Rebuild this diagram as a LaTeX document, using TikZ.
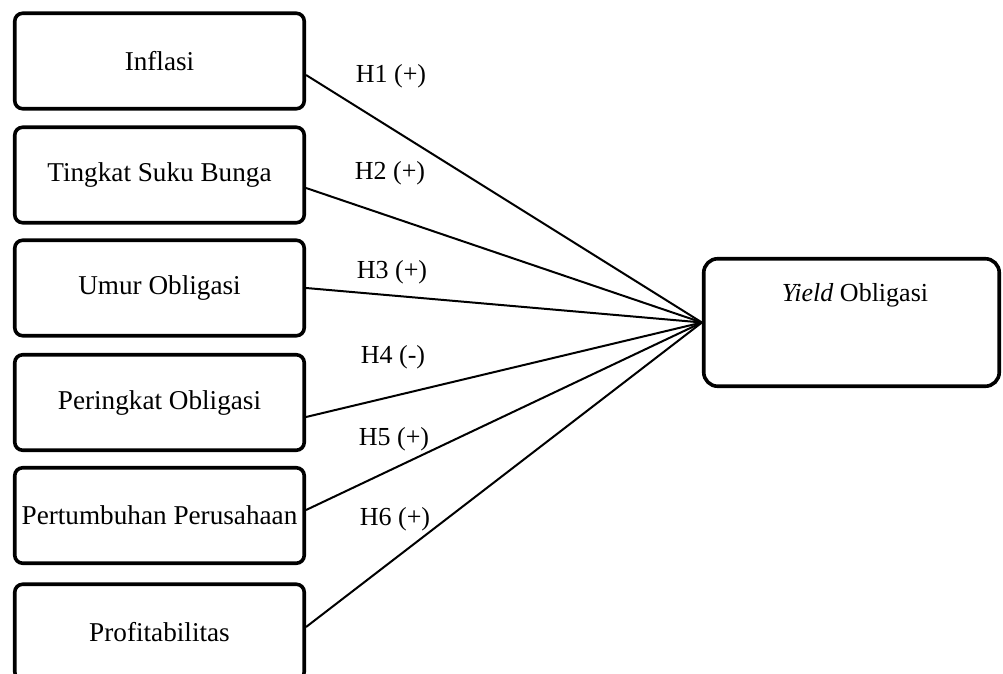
\documentclass[tikz,border=0pt]{standalone}
\usepackage{fontspec}
\setmainfont{Liberation Serif}
\usetikzlibrary{calc}
\tikzset{
  varbox/.style={draw,line width=1.8pt,rounded corners=4pt,minimum width=144.75pt,minimum height=47.75pt,inner sep=0pt,font=\fontsize{13.6}{15}\selectfont},
  yieldbox/.style={draw,line width=1.8pt,rounded corners=7pt,minimum width=147.75pt,minimum height=63.75pt,inner sep=0pt},
  link/.style={line width=1pt},
  hyp/.style={inner sep=0pt}
}

\begin{document}
\begin{tikzpicture}[x=0.5pt,y=-0.5pt,font=\fontsize{13}{15}\selectfont]
  \useasboundingbox (0,0) rectangle (1003,674);
  % variables
  \node[varbox] (inflasi) at (159.5,61) {Inflasi};
  \node[varbox] (bunga) at (159.5,175) {Tingkat Suku Bunga};
  \node[varbox] (umur) at (159.5,288) {Umur Obligasi};
  \node[varbox] (peringkat) at (159.5,402.5) {Peringkat Obligasi};
  \node[varbox] (tumbuh) at (159.5,515.5) {Pertumbuhan Perusahaan};
  \node[varbox] (profit) at (159.5,632) {Profitabilitas};
  \node[yieldbox] (yield) at (851.5,322.5) {};
  \node (yieldtxt) at (855,295) {\textit{Yield} Obligasi};
  % hypotheses
  \draw[link] ([yshift=-7pt]inflasi.east) -- (yield.west);
  \draw[link] ([yshift=-6.5pt]bunga.east) -- (yield.west);
  \draw[link] (umur.east) -- (yield.west);
  \draw[link] ([yshift=-7.25pt]peringkat.east) -- (yield.west);
  \draw[link] ([yshift=2.75pt]tumbuh.east) -- (yield.west);
  \draw[link] ([yshift=2.5pt]profit.east) -- (yield.west);
  \node[hyp] (h1) at (391,76) {H1 (+)};
  \node[hyp] (h2) at (390,173) {H2 (+)};
  \node[hyp] (h3) at (392,272) {H3 (+)};
  \node[hyp] (h4) at (393,357) {H4 (-)};
  \node[hyp] (h5) at (394,439) {H5 (+)};
  \node[hyp] (h6) at (395,519) {H6 (+)};
\end{tikzpicture}
\end{document}
